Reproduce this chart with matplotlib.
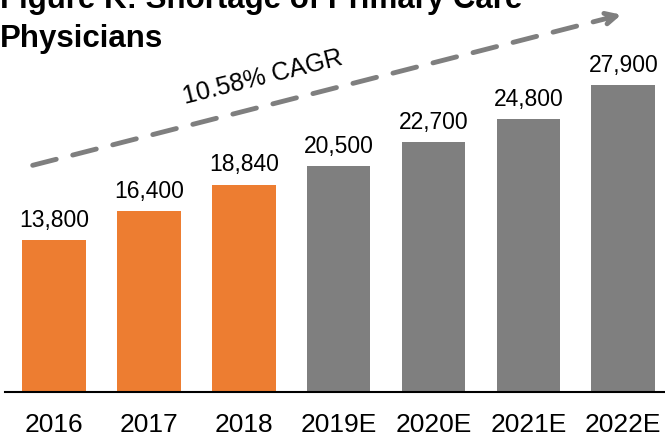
import matplotlib
matplotlib.use('Agg')
import matplotlib.pyplot as plt

plt.rcParams['font.family'] = ['Liberation Sans', 'DejaVu Sans']

years = ['2016', '2017', '2018', '2019E', '2020E', '2021E', '2022E']
shortage = [13800, 16400, 18840, 20500, 22700, 24800, 27900]
actual = [True, True, True, False, False, False, False]

orange = '#ED7D31'
grey = '#7F7F7F'

fig = plt.figure(figsize=(6.65, 4.38), dpi=100)
ax = fig.add_axes([5 / 665, 1 - 392 / 438, 660 / 665, 392 / 438])

x = range(len(years))
colors = [orange if a else grey for a in actual]
bars = ax.bar(x, shortage, width=0.67, color=colors)

for b, v in zip(bars, shortage):
    ax.annotate(f'{v:,}', (b.get_x() + b.get_width() / 2, v),
                xytext=(0, 9.5), textcoords='offset points',
                ha='center', va='baseline', fontsize=16.5)

ax.set_xlim(-0.516, 6.44)
ax.set_ylim(0, 35600)
ax.set_xticks(list(x))
ax.set_xticklabels(years, fontsize=19)
ax.tick_params(axis='x', length=0, pad=15)
ax.set_yticks([])
for s in ['top', 'right', 'left']:
    ax.spines[s].set_visible(False)
ax.spines['bottom'].set_linewidth(1.5)

# trend arrow
ax.annotate('', xy=(619 / 660, 1 - 14 / 392), xytext=(25 / 660, 1 - 166 / 392),
            xycoords='axes fraction',
            arrowprops=dict(arrowstyle='-|>', color=grey, lw=3.5,
                            linestyle=(0, (5, 3.5)), mutation_scale=20))
ax.text(258 / 660, 1 - 77 / 392, '10.58% CAGR', transform=ax.transAxes,
        rotation=14, ha='center', va='center', fontsize=18)

fig.text(0, 1 - 8 / 438, 'Figure K: Shortage of Primary Care',
         ha='left', va='baseline', fontsize=22.5, fontweight='bold')
fig.text(0, 1 - 47 / 438, 'Physicians',
         ha='left', va='baseline', fontsize=22.5, fontweight='bold')

fig.savefig('out.png', dpi=100)
